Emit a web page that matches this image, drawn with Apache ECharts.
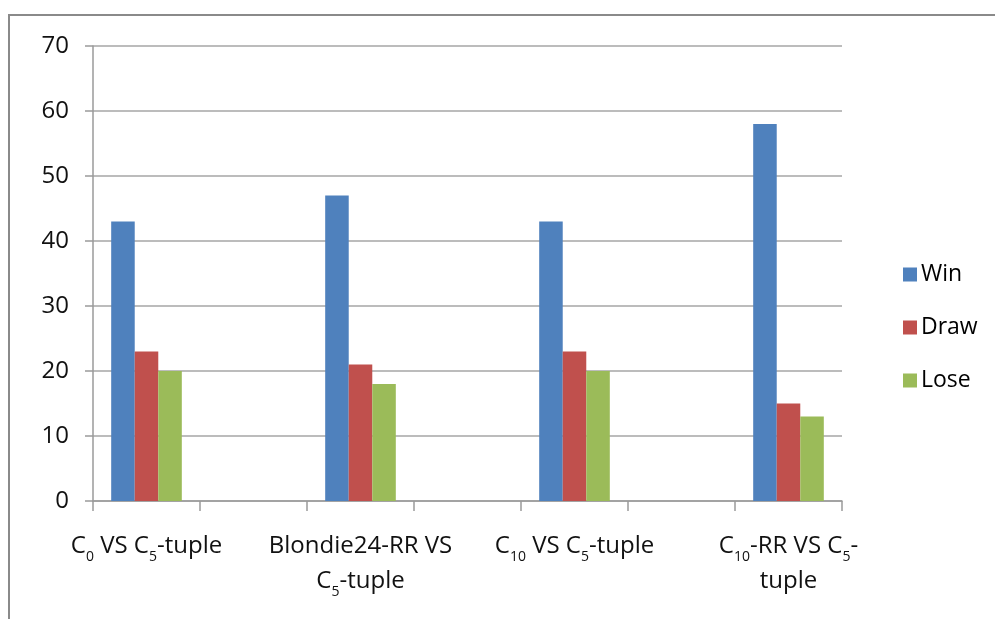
<!DOCTYPE html>
<html>
<head>
<meta charset="utf-8">
<script src="https://cdn.jsdelivr.net/npm/echarts@6/dist/echarts.min.js"></script>
<style>html,body{margin:0;padding:0;background:#fff}#c{width:995px;height:619px}</style>
</head>
<body>
<div id="c"></div>
<script>
// Categories (empty slots between groups, as in the source sheet)
const categories = ['C₀ VS C₅-tuple', '', 'Blondie24-RR VS\nC₅-tuple', '', 'C₁₀ VS C₅-tuple', '', 'C₁₀-RR VS C₅-\ntuple'];
const seriesNames = ['Win', 'Draw', 'Lose'];
const winValues  = [43, null, 47, null, 43, null, 58];
const drawValues = [23, null, 21, null, 23, null, 15];
const loseValues = [20, null, 18, null, 20, null, 13];
const yTicks = [0, 10, 20, 30, 40, 50, 60, 70];

const colors = ['#4f81bd', '#c0504d', '#9bbb59'];
const FONT = 'Open Sans';

const subMap = {'₀':'0','₁':'1','₂':'2','₃':'3','₄':'4','₅':'5','₆':'6','₇':'7','₈':'8','₉':'9'};
function toRich(label) {
  return label.split('\n').map(line => {
    let out = '', buf = '', sub = '';
    const flushB = () => { if (buf) { out += '{b|' + buf + '}'; buf = ''; } };
    const flushS = () => { if (sub) { out += '{s|' + sub + '}'; sub = ''; } };
    for (const ch of line) {
      if (subMap[ch] !== undefined) { flushB(); sub += subMap[ch]; }
      else { flushS(); buf += ch; }
    }
    flushB(); flushS();
    return out;
  }).join('\n');
}

const chart = echarts.init(document.getElementById('c'), null, {renderer: 'canvas'});
const mk = (name, data, i) => ({
  name: name, type: 'bar', data: data,
  barGap: '0%', barCategoryGap: '34%',
  itemStyle: {color: colors[i]},
  emphasis: {disabled: true}
});
chart.setOption({
  animation: false,
  textStyle: {fontFamily: FONT},
  graphic: [{
    type: 'rect', shape: {x: 9, y: 15, width: 1000, height: 620},
    style: {fill: 'none', stroke: '#8a8a8a', lineWidth: 2}, silent: true, z: -1
  }],
  grid: {left: 93, right: 153, top: 46, bottom: 118, containLabel: false},
  legend: {
    orient: 'vertical', left: 898, top: 258,
    itemWidth: 14, itemHeight: 14, itemGap: 30,
    icon: 'rect',
    textStyle: {fontFamily: FONT, fontSize: 23, color: '#000', lineHeight: 20, padding: [0,0,0,-1]},
    data: seriesNames
  },
  xAxis: {
    type: 'category', data: categories,
    axisLine: {lineStyle: {color: '#9a9a9a', width: 1.5}},
    axisTick: {show: true, length: 10, interval: 0, lineStyle: {color: '#9a9a9a', width: 1.5}},
    axisLabel: {
      interval: 0, margin: 28, verticalAlign: 'top',
      formatter: v => toRich(v),
      rich: {
        b: {fontFamily: FONT, fontSize: 24, lineHeight: 35, color: '#111'},
        s: {fontFamily: FONT, fontSize: 14, lineHeight: 34, verticalAlign: 'bottom', color: '#111'}
      }
    },
    splitLine: {show: false}
  },
  yAxis: {
    type: 'value', min: 0, max: 70, interval: 10,
    axisLine: {show: true, lineStyle: {color: '#9a9a9a', width: 1.5}},
    axisTick: {show: true, length: 8, lineStyle: {color: '#9a9a9a', width: 1.5}},
    axisLabel: {fontFamily: FONT, fontSize: 24, color: '#111', margin: 24,
      formatter: v => yTicks.includes(v) ? String(v) : ''},
    splitLine: {lineStyle: {color: '#a6a6a6', width: 1.5}}
  },
  series: [mk(seriesNames[0], winValues, 0), mk(seriesNames[1], drawValues, 1), mk(seriesNames[2], loseValues, 2)]
});
</script>
</body>
</html>
